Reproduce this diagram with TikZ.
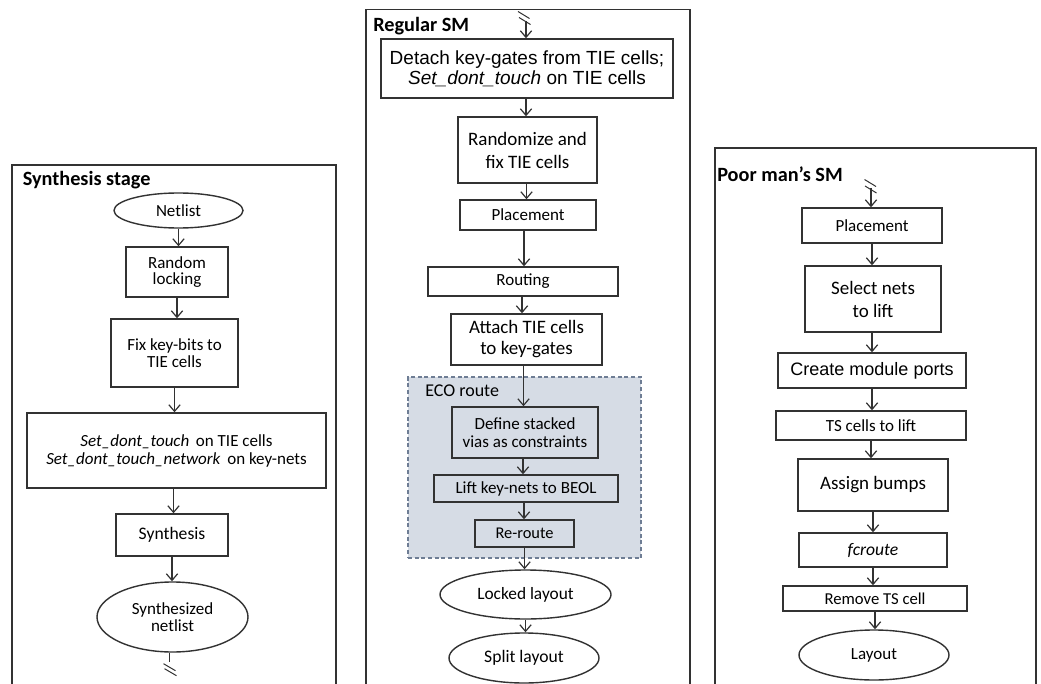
\documentclass[tikz,border=0pt]{standalone}
\usepackage{fontspec}
\setmainfont{Carlito}
\newfontfamily\arialf{Liberation Sans}
\usetikzlibrary{shapes.geometric,arrows.meta,calc}
\definecolor{ln}{RGB}{50,50,50}
\definecolor{ecofill}{RGB}{214,220,229}
\definecolor{ecoline}{RGB}{110,125,148}
\tikzset{
 box/.style={draw=ln, line width=1.05pt, inner sep=0pt, align=center},
 oval/.style={ellipse, draw=ln, line width=1.05pt, inner sep=0pt, align=center},
 panel/.style={draw=ln, line width=1.05pt},
 arr/.style={draw=ln, line width=0.9pt, -{Straight Barb[length=5pt,width=8.5pt]}},
 brk/.style={draw=ln, line width=0.75pt},
 ttl/.style={font=\fontsize{15.2}{18}\selectfont\bfseries, anchor=base west, inner sep=0pt},
 fA/.style={font=\fontsize{12.75}{12.5}\selectfont},
 fB/.style={font=\fontsize{14.25}{17.25}\selectfont},
 fC/.style={font=\fontsize{12.75}{13.7}\selectfont},
}
\newcommand\bx[7][box]{%
 \pgfmathsetmacro\bxX{(#3+#5)/2}%
 \pgfmathsetmacro\bxY{(#4+#6)/2}%
 \pgfmathsetmacro\bxW{(#5-#3)*0.75}%
 \pgfmathsetmacro\bxH{(#6-#4)*0.75}%
 \node[#1,minimum width=\bxW pt,minimum height=\bxH pt] (#2) at (\bxX,\bxY) {#7};}
\begin{document}
\begin{tikzpicture}[x=0.75pt,y=-0.75pt]
\useasboundingbox (0,0) rectangle (1041,684);
\fill[white] (0,0) rectangle (1041,684);
% panels
\draw[panel] (12,690) -- (12,165) -- (336,165) -- (336,690);
\draw[panel] (366,690) -- (366,9.5) -- (690,9.5) -- (690,690);
\draw[panel] (715,690) -- (715,148) -- (1036,148) -- (1036,690);
\node[ttl] (t1) at (22.5,186) {Synthesis stage};
\node[ttl] (t2) at (373,32) {Regular SM};
\node[ttl] (t3) at (717,181.7) {Poor man’s SM};
% left
\bx[oval,fA]{net}{114}{193}{243}{228}{Netlist}
\bx[box,fA]{rl}{126}{247}{228}{297}{Random\\locking}
\bx[box,fA]{fk}{111}{319}{238}{387}{Fix key-bits to\\TIE cells}
\bx[box,font=\fontsize{12.75}{13.5}\selectfont]{sdt}{27}{413}{326}{488}{\textit{Set\_dont\_touch}\, on TIE cells\\\textit{Set\_dont\_touch\_network}\, on key-nets}
\bx[box,font=\fontsize{13.2}{14}\selectfont]{syn}{116}{514}{228}{556}{Synthesis}
\bx[oval,fA]{sn}{97}{582}{248}{652}{Synthesized\\netlist}
\draw[arr] (net.south) -- (net.south |- rl.north);
\draw[arr] (rl.south) -- (rl.south |- fk.north);
\draw[arr] (fk.south) -- (fk.south |- sdt.north);
\draw[arr] ($(sdt.south)+(-3,0)$) -- ($(sdt.south |- syn.north)+(-3,0)$);
\draw[arr] (syn.south) -- (syn.south |- sn.north);
\draw[brk] ($(sn.south)+(-3,0)$) -- ++(0,9) coordinate (b1);
\draw[brk] ($(b1)+(-6,2)$) -- ++(12,7);
\draw[brk] ($(b1)+(-5,7)$) -- ++(12,7);
% middle
\bx[box,font=\arialf\fontsize{14.25}{15}\selectfont]{det}{381}{39}{673}{98}{Detach key-gates from TIE cells;\\\textit{Set\_dont\_touch} on TIE cells}
\bx[box,fB]{rnd}{458}{117}{597}{183}{Randomize and\\fix TIE cells}
\bx[box,fA]{pl1}{460}{200}{596}{230}{Placement}
\bx[box,fA]{rt}{428}{267}{618}{296}{Routing}
\bx[box,font=\fontsize{14.25}{15.75}\selectfont]{att}{451}{314}{602}{365}{Attach TIE cells\\to key-gates}
\bx[box,draw=ecoline,densely dashed,fill=ecofill,line width=0.8pt]{eco}{408}{377}{641}{558}{}
\node[anchor=base west, inner sep=0pt, font=\fontsize{13.5}{16}\selectfont] (ecol) at (425,396.7) {ECO route};
\bx[box,fC]{def}{452}{407}{598}{458}{Define stacked\\vias as constraints}
\bx[box,fA]{lift}{434}{475}{618}{502}{Lift key-nets to BEOL}
\bx[box,font=\fontsize{12.3}{13}\selectfont]{rr}{475}{520}{574}{547}{Re-route}
\bx[oval,font=\fontsize{13}{14}\selectfont]{lk}{440}{570}{611}{619}{Locked layout}
\bx[oval,font=\fontsize{13.2}{14}\selectfont]{sp}{449}{633}{599}{683}{Split layout}
\coordinate (tm) at (526,21);
\draw[arr] (tm) -- (tm |- det.north);
\draw[brk] (518,11.5) -- ++(11.5,7);
\draw[brk] (519,17.5) -- ++(11.5,7);
\draw[arr] ($(det.south)+(-1,0)$) -- ($(det.south |- rnd.north)+(-1,0)$);
\draw[arr] ($(rnd.south)+(-1,0)$) -- ($(rnd.south |- pl1.north)+(-1,0)$);
\draw[arr] ($(pl1.south)+(-4,0)$) -- ($(pl1.south |- rt.north)+(-4,0)$);
\draw[arr] ($(rt.south)+(-1,0)$) -- ($(rt.south |- att.north)+(-1,0)$);
\draw[arr] ($(att.south)+(-3,0)$) -- ($(att.south |- def.north)+(-3,0)$);
\draw[arr] ($(def.south)+(-2,0)$) -- ($(def.south |- lift.north)+(-2,0)$);
\draw[arr] ($(lift.south)+(-2,0)$) -- ($(lift.south |- rr.north)+(-2,0)$);
\draw[arr] (rr.south) -- (rr.south |- lk.north);
\draw[arr] (lk.south) -- (lk.south |- sp.north);
% right
\bx[box,fA]{pl2}{802}{208}{942}{243}{Placement}
\bx[box,fB]{sel}{805}{266}{941}{332}{Select nets\\to lift}
\bx[box,font=\arialf\fontsize{13.5}{15}\selectfont]{cmp}{778}{353}{966}{388}{Create module ports}
\bx[box,fA]{ts}{776}{411}{966}{440}{TS cells to lift}
\bx[box,fB]{ab}{798}{459}{948}{511}{Assign bumps}
\bx[box,font=\fontsize{13.2}{14}\selectfont\itshape]{fc}{799}{533}{947}{567}{fcroute}
\bx[box,font=\fontsize{12.5}{13}\selectfont]{rm}{783}{586}{967}{611}{Remove TS cell}
\bx[oval,fA]{lay}{799}{630}{949}{680}{Layout}
\coordinate (tr) at (871,188);
\draw[arr] (tr) -- (tr |- pl2.north);
\draw[brk] (864.5,179.5) -- ++(11.5,7);
\draw[brk] (865,186) -- ++(11.5,7);
\draw[arr] (pl2.south) -- (pl2.south |- sel.north);
\draw[arr] ($(sel.south)+(-1,0)$) -- ($(sel.south |- cmp.north)+(-1,0)$);
\draw[arr] (cmp.south) -- (cmp.south |- ts.north);
\draw[arr] (ts.south) -- (ts.south |- ab.north);
\draw[arr] (ab.south) -- (ab.south |- fc.north);
\draw[arr] (fc.south) -- (fc.south |- rm.north);
\draw[arr] (rm.south) -- (rm.south |- lay.north);
\end{tikzpicture}
\end{document}
